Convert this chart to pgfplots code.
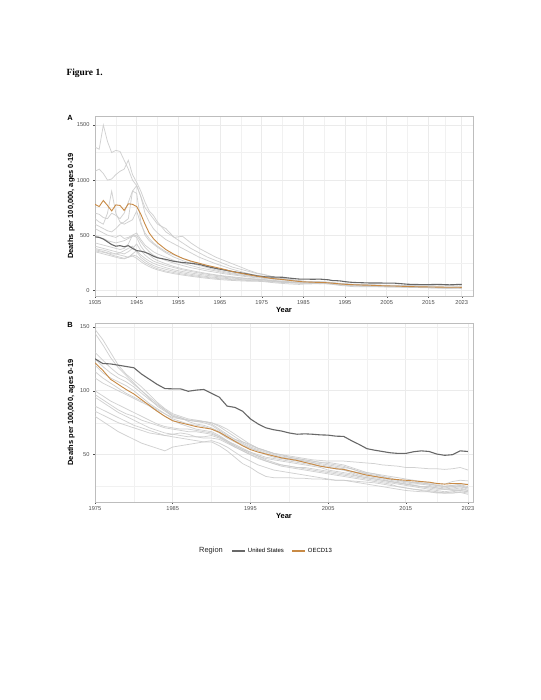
\documentclass[border=0pt]{standalone}
\usepackage{pgfplots}
\usepackage{pgfplotstable}
\pgfplotsset{compat=1.18}
\usepackage{fontspec}
\setmainfont{Liberation Sans}
\newfontfamily\serifbold{Liberation Serif}

\definecolor{usgray}{HTML}{686868}
\definecolor{oecd}{HTML}{C88A45}
\definecolor{ctry}{HTML}{CCCCCC}
\definecolor{gridc}{HTML}{EBEBEB}
\definecolor{bordc}{HTML}{BDBDBD}
\definecolor{tickc}{HTML}{4D4D4D}

\pgfplotstableread{
year us oecd c1 c2 c3 c4 c5 c6 c7 c8 c9 c10 c11 c12 c13
1935 485 780 1300 1080 700 650 600 560 500 430 400 380 370 360 350
1936 480 760 1280 1100 690 620 580 540 480 420 390 370 360 350 340
1937 465 815 1500 1060 660 600 560 520 470 410 380 365 350 345 330
1938 440 770 1350 1000 650 700 540 500 450 400 370 355 340 335 320
1939 415 720 1250 1010 700 900 530 490 440 390 360 340 330 320 310
1940 400 775 1270 1050 680 700 560 480 430 380 350 330 330 310 300
1941 405 770 1260 1080 650 620 600 500 440 370 340 320 340 300 290
1942 395 725 1180 1100 700 600 620 470 450 380 330 310 360 290 285
1943 405 785 1100 1180 800 620 650 480 470 420 350 300 380 300 300
1944 380 780 1000 1050 900 640 900 500 490 500 380 330 400 320 310
1945 360 760 950 980 950 720 880 520 500 480 420 360 350 310 290
1946 355 690 850 900 850 600 620 460 440 400 360 320 300 280 260
1947 345 600 750 800 700 520 500 410 390 350 320 290 270 250 235
1948 330 520 700 720 620 470 450 380 350 320 290 265 245 230 215
1949 310 470 650 680 560 430 420 350 320 290 265 245 225 210 198
1950 295 430 600 620 520 400 390 330 300 270 250 230 210 195 185
1952 280 370 560 530 460 350 340 300 270 240 225 205 190 175 165
1954 262 325 480 480 420 320 300 270 245 215 205 185 172 160 150
1956 252 290 490 430 380 290 270 245 225 195 185 170 158 147 138
1958 245 265 430 380 340 260 245 225 205 180 170 157 145 135 127
1960 235 245 380 340 300 240 225 205 190 165 157 145 134 125 117
1962 215 225 340 300 270 220 205 190 175 152 145 135 124 116 108
1964 198 208 300 270 240 200 185 175 163 140 135 126 116 108 100
1966 185 190 270 240 215 180 170 160 150 130 125 118 109 102 94
1968 170 170 240 210 190 165 155 148 140 122 117 110 102 96 89
1970 158 155 210 190 170 150 145 138 130 114 110 104 97 92 85
1972 145 140 180 170 150 140 133 128 120 107 104 100 93 88 82
1974 130 127 155 150 135 128 123 118 112 102 99 97 90 86 81
}\tabA

\pgfplotstableread{
year us oecd c1 c2 c3 c4 c5 c6 c7 c8 c9 c10 c11 c12 c13
1975 125 121.8 148 145 130 125 120 115 110 100 97 95 88 84 80
1976 121.3 116 140 136 124 119 114 110 106 96 93 91 85 81 76
1977 121 109 130 126 118 114 110 106 103 92 89 87 82 78 72
1978 120 105 120 118 113 110 107 102 100 89 85 83 79 75 68
1979 119 101 113 112 110 107 104 98 97 86 82 80 76 73 65
1980 118 97.5 108 106 105 103 100 95 94 83 80 77 73 71 62
1981 113 93 103 100 100 98 95 92 91 80 77 74 71 69 59
1982 109 88.5 97 94 95 93 90 89 88 77 75 71 69 67 57
1983 105 84 91 88 90 89 86 85 84 74 73 69 67 66 55
1984 101.7 80 86 84 85 85 82 82 80 72 71 67 65 65 53
1985 101.5 76.5 82 80 81 80 78 79 77 71 70 66 64 66 56
1986 101.5 75 80 79 79 78 76 78 74 70 69 65 63 67 57
1987 99.6 73.5 78 77 76 77 74 77 72 70 68 64 62 66 58
1988 100.5 72 77 76 74 77 73 76 70 69 68 64 61 64 59
1989 101 71 76 75 73 76 72 76 69 68 67 64 60 63 60
1990 98 70 74 73 71 75 70 75 68 67 66 65 60 63 61
1991 95 67.5 70 69 68 72 67 73 65 64 64 63 57 62 59
1992 88 64 66 65 64 68 63 70 61 60 61 60 53 59 56
1993 87 60.5 62 62 61 64 60 66 57 57 58 56 48 56 52
1994 84 57 59 60 58 60 57 62 54 54 55 53 43 53 48
1995 78 54 56 58 55 57 55 58 51 52 52 50 40 50 45
1996 74 52 54 55 53 55 53 55 49 50 49 48 36 47 42
1997 71 50.5 52 53 50 53 51 53 47 48 46 45 33 45 40
1998 69.5 49 50 51 48 51 49 51 46 47 44 43 32 43 38
1999 68.5 47.5 48 49 47 50 48 50 45 46 42 41 32 42 37
2000 67 46.5 47 48 46 49 47 48 44 45 41 40 32 41 36
2001 66 45.5 46 47 45 48 46 47 43 44 40 39 31.5 40 35
2002 66.3 44 45 46 44 47 45 46 42 43 39 38 31.5 40 34
2003 66 42.5 44 45 43 46 44 45 41 42 38 37 31 39 33
2004 65.5 41 42 44 41 45.5 43 44 40 41 37 36 31 38 32
2005 65.3 40 41 43 40 45 42 44 38 40 36 35 30.5 37 31
2006 64.5 39 40 42 39 45 41 43 37 39 35 34 30 36 30
2007 64.3 38.5 39 41 38 45 40 42 36 38 34 33 30 35 30
2008 61 37 37 39 37 44.5 39 40 35 36 33 32 29.5 34 29
2009 58 35.5 36 37 35 44 37 38 33 34 32 31 29 33 28
2010 54.7 34 35 35 34 43.5 36 36 32 33 31 30 28.5 32 27
2011 53.5 33 33 34 33 43 35 35 31 32 30 29 28 31 26
2012 52.5 32 32 33 32 42 34 33 30 31 29 28 27 30 25
2013 51.5 31 31 31 30 41.5 33 32 29 29 28 27 26 29 24
2014 51 30.5 30 30 29 41 32 30 28 28 27 25 25 28 23
2015 51 30 29 29 28 40 31 29 27 27 26 24 24 27 22
2016 52.3 29.5 28.5 28 27 40 30 28 26 26 25 23 23 26 21.5
2017 53 29 28 27 27 39.5 29 28 25 25 24 22 22.5 25 21
2018 52.5 28.5 27 27 26 39 28 27 24 25 23 21 22 25 21
2019 50.5 27.5 26 26 25 39 27 26 23 24 22 20 21 24 20.5
2020 49.5 27 25.5 25 24 38.5 27 25 23 23 21 20 20 23 20
2021 50 27.5 26 25 25 39 29 26 23 24 22 20 20 23 21
2022 53 27.5 26.5 26 25 40 30 27 24 25 22 21 20.5 23 22
2023 52.5 26.5 25 24 23 38 29.5 27 22 24 21 20 19 22 21
}\tabB

\pgfplotstablevertcat{\tabA}{\tabB}

\pgfplotsset{
  panel/.style={
    scale only axis, width=378bp,
    axis line style={draw=bordc, line width=0.9bp},
    tick style={draw=tickc, line width=0.4bp},
    xtick pos=bottom, ytick pos=left,
    tick align=outside, major tick length=2bp, minor tick length=0pt,
    grid=both,
    major grid style={draw=gridc, line width=0.6bp},
    minor grid style={draw=gridc!70, line width=0.4bp},
    ticklabel style={font=\fontsize{5.7}{6}\selectfont, text=tickc},
    xticklabel style={yshift=0.5bp},
    /pgf/number format/assume math mode=true,
    /pgf/number format/1000 sep={},
    xlabel={Year}, ylabel={Deaths per 100,000, ages 0-19},
    label style={font=\bfseries\fontsize{7.5}{8}\selectfont},
    xlabel style={at={(axis description cs:0.5,-0.08)}, anchor=center},
    ylabel style={at={(axis description cs:-0.063,0.5)}, anchor=center},
  },
}

\begin{document}
\begin{tikzpicture}
\path[use as bounding box, fill=white] (0,0) rectangle (541bp,700bp);

\node[anchor=west, font=\serifbold\bfseries\fontsize{9.5}{11}\selectfont] at (63bp,627bp) {Figure 1.};

% Panel A
\begin{axis}[panel, at={(95bp,404bp)}, anchor=south west, height=180bp,
  xmin=1935, xmax=2025.7, ymin=-52, ymax=1582,
  xtick={1935,1945,1955,1965,1975,1985,1995,2005,2015,2023},
  minor xtick={1940,1950,1960,1970,1980,1990,2000,2010,2019},
  ytick={0,500,1000,1500}, minor ytick={250,750,1250}]
\pgfplotsinvokeforeach{c1,c2,c3,c4,c5,c6,c7,c8,c9,c10,c11,c12,c13}{
  \addplot[draw=ctry, line width=0.75bp, opacity=0.9, forget plot] table[x=year,y=#1]{\tabA};
}
\addplot[draw=usgray, line width=1.1bp] table[x=year,y=us]{\tabA};
\addplot[draw=oecd, line width=0.9bp] table[x=year,y=oecd]{\tabA};
\end{axis}

% Panel B
\begin{axis}[panel, at={(95bp,198bp)}, anchor=south west, height=179bp,
  xmin=1975, xmax=2023.65, ymin=13, ymax=153,
  xtick={1975,1985,1995,2005,2015,2023},
  minor xtick={1980,1990,2000,2010,2019},
  ytick={50,100,150}, minor ytick={25,75,125},
  legend columns=2,
  legend style={at={(0.497,-0.274)}, anchor=center, draw=none, fill=none,
    font=\fontsize{6}{7}\selectfont,
    /tikz/every even column/.append style={column sep=6bp}},
  legend cell align=left]
\pgfplotsinvokeforeach{c1,c2,c3,c4,c5,c6,c7,c8,c9,c10,c11,c12,c13}{
  \addplot[draw=ctry, line width=0.75bp, opacity=0.9, forget plot] table[x=year,y=#1]{\tabB};
}
\addplot[draw=usgray, line width=1.1bp, forget plot] table[x=year,y=us]{\tabB};
\addplot[draw=oecd, line width=0.9bp, forget plot] table[x=year,y=oecd]{\tabB};
\addlegendimage{legend image code/.code={\draw[draw=usgray, line width=1.1bp] (0bp,0bp) -- (13bp,0bp);}}
\addlegendentry{United States}
\addlegendimage{legend image code/.code={\draw[draw=oecd, line width=1.1bp] (0bp,0bp) -- (13bp,0bp);}}
\addlegendentry{OECD13}
\end{axis}

\node[font=\bfseries\fontsize{7.5}{8}\selectfont] at (70bp,582bp) {A};
\node[font=\bfseries\fontsize{7.5}{8}\selectfont] at (70bp,375bp) {B};
\node[font=\fontsize{7.5}{8}\selectfont, text=black!85] at (211bp,149bp) {Region};
\end{tikzpicture}
\end{document}
